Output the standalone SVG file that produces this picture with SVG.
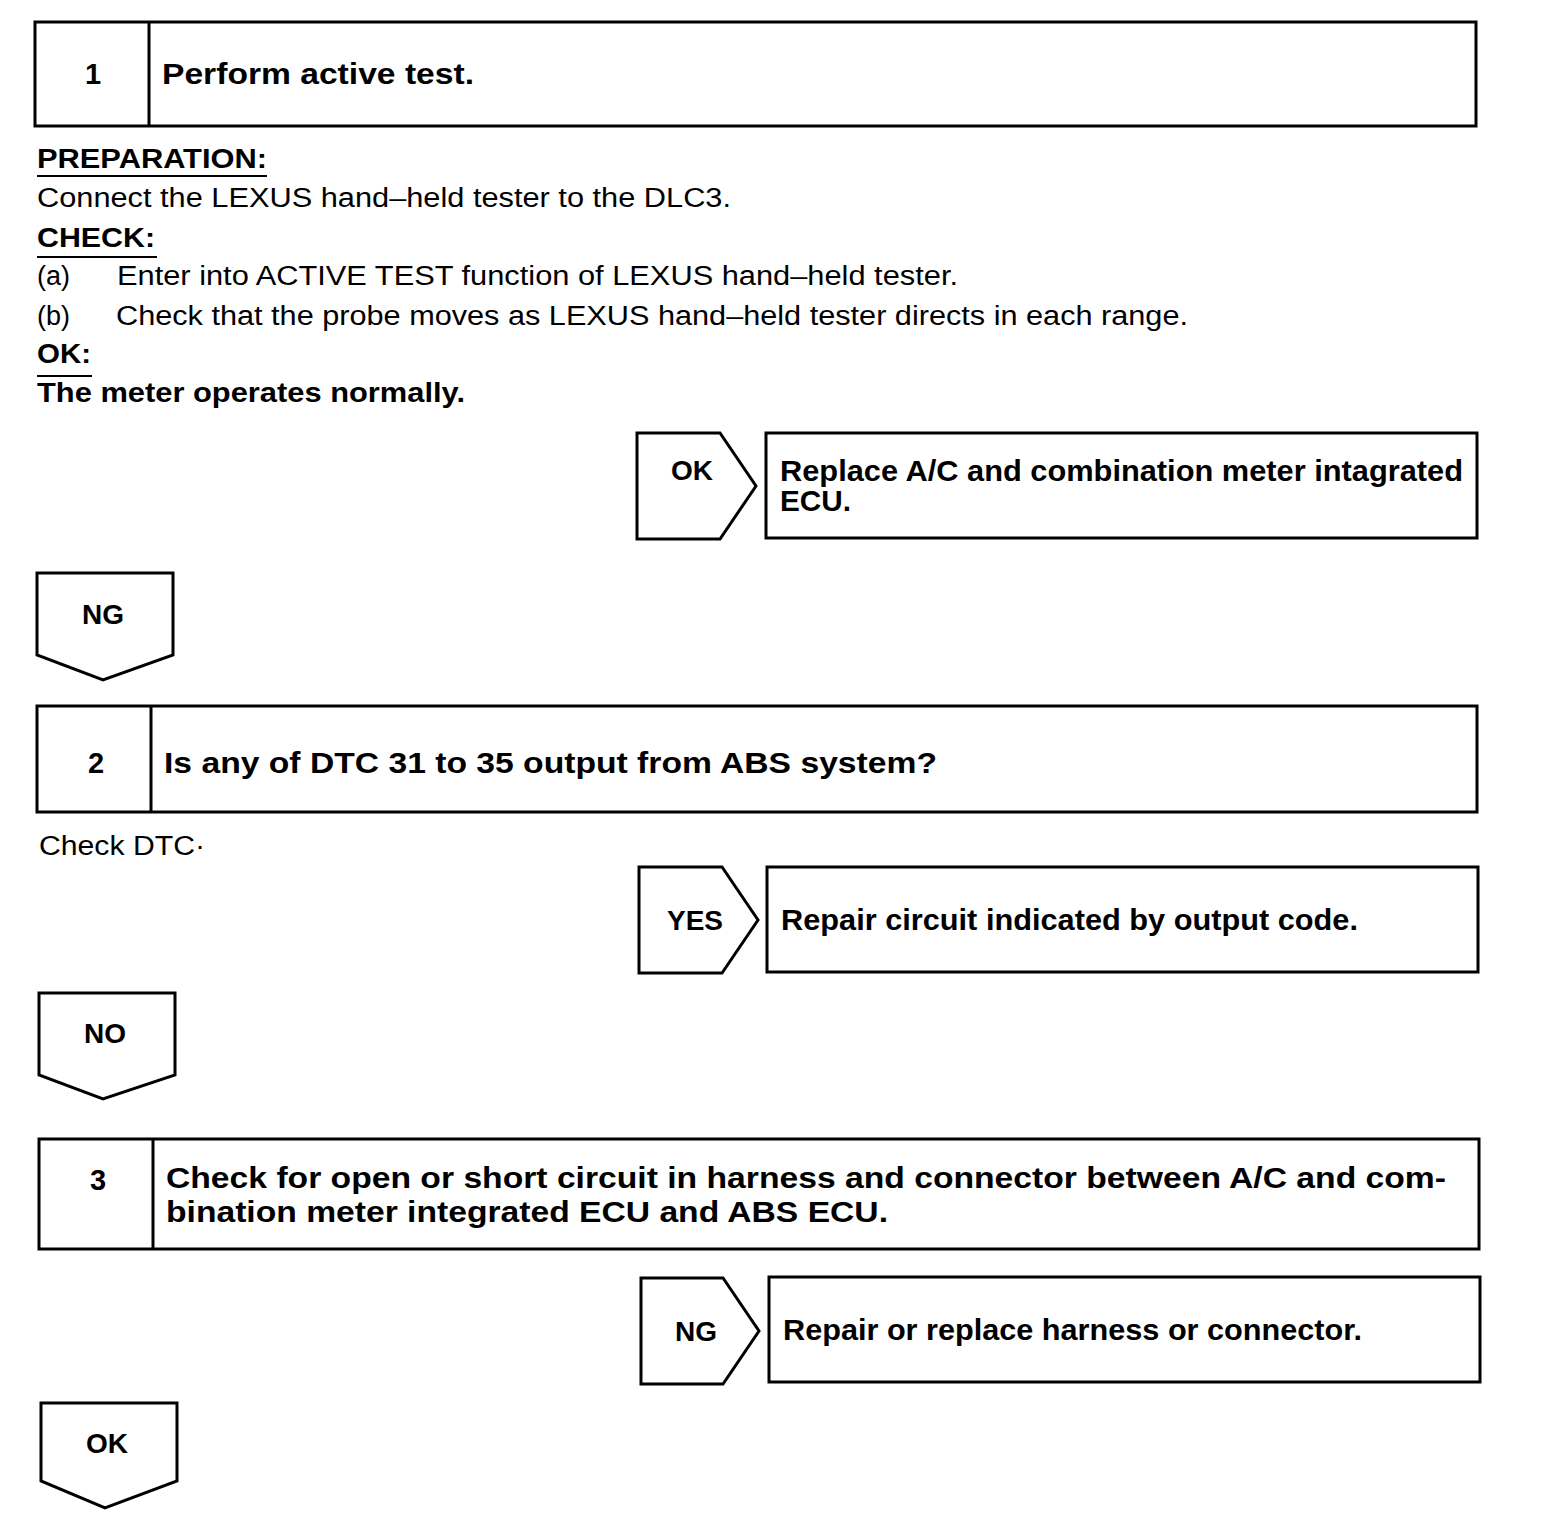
<svg xmlns="http://www.w3.org/2000/svg" width="1568" height="1540" viewBox="0 0 1568 1540">
<style>
.bx{fill:#fff;stroke:#000;stroke-width:3}
.ln{stroke:#000;stroke-width:3;fill:none}
.ul{stroke:#000;stroke-width:2}
.t{font-family:"Liberation Sans",Arial,sans-serif;fill:#000}
.b{font-weight:bold}
.r{font-size:27px}
.h{font-size:29px;font-weight:bold}
.c{font-size:28px;font-weight:bold}
.rc{font-size:30px;font-weight:bold}
.m{text-anchor:middle}
</style>
<rect width="1568" height="1540" fill="#fff"/>
<g id="step1">
<rect class="bx" x="35" y="22" width="1441" height="104"/>
<line class="ln" x1="149" y1="22" x2="149" y2="126"/>
<text class="t h m" x="93" y="84">1</text>
<text class="t h" x="162" y="84" textLength="312" lengthAdjust="spacingAndGlyphs">Perform active test.</text>
</g>
<g id="step1-notes">
<text class="t r b" x="37" y="168" textLength="230" lengthAdjust="spacingAndGlyphs">PREPARATION:</text>
<line class="ul" x1="37" y1="176" x2="267" y2="176"/>
<text class="t r" x="37" y="207" textLength="694" lengthAdjust="spacingAndGlyphs">Connect the LEXUS hand–held tester to the DLC3.</text>
<text class="t r b" x="37" y="247" textLength="118" lengthAdjust="spacingAndGlyphs">CHECK:</text>
<line class="ul" x1="37" y1="257" x2="157" y2="257"/>
<text class="t r" x="37" y="285">(a)</text>
<text class="t r" x="117" y="285" textLength="841" lengthAdjust="spacingAndGlyphs">Enter into ACTIVE TEST function of LEXUS hand–held tester.</text>
<text class="t r" x="37" y="325">(b)</text>
<text class="t r" x="116" y="325" textLength="1072" lengthAdjust="spacingAndGlyphs">Check that the probe moves as LEXUS hand–held tester directs in each range.</text>
<text class="t r b" x="37" y="363" textLength="54" lengthAdjust="spacingAndGlyphs">OK:</text>
<line class="ul" x1="37" y1="376" x2="92" y2="376"/>
<text class="t r b" x="37" y="402" textLength="428" lengthAdjust="spacingAndGlyphs">The meter operates normally.</text>
</g>
<g id="connectors">
<g id="ok1">
<polygon class="bx" points="637,433 720,433 756,486 720,539 637,539"/>
<text class="t c m" x="692" y="480">OK</text>
</g>
<g id="ng1">
<polygon class="bx" points="37,573 173,573 173,655 103,680 37,655"/>
<text class="t c m" x="103" y="624">NG</text>
</g>
<g id="yes2">
<polygon class="bx" points="639,867 722,867 758,920 722,973 639,973"/>
<text class="t c m" x="695" y="930">YES</text>
</g>
<g id="no2">
<polygon class="bx" points="39,993 175,993 175,1075 103,1099 39,1075"/>
<text class="t c m" x="105" y="1043">NO</text>
</g>
<g id="ng3">
<polygon class="bx" points="641,1278 723,1278 759,1331 723,1384 641,1384"/>
<text class="t c m" x="696" y="1341">NG</text>
</g>
<g id="ok3">
<polygon class="bx" points="41,1403 177,1403 177,1481 105,1508 41,1481"/>
<text class="t c m" x="107" y="1453">OK</text>
</g>
</g>
<g id="result1">
<rect class="bx" x="766" y="433" width="711" height="105"/>
<text class="t rc" x="780" y="481" textLength="683" lengthAdjust="spacingAndGlyphs">Replace A/C and combination meter intagrated</text>
<text class="t rc" x="780" y="511" textLength="71" lengthAdjust="spacingAndGlyphs">ECU.</text>
</g>
<g id="step2">
<rect class="bx" x="37" y="706" width="1440" height="106"/>
<line class="ln" x1="151" y1="706" x2="151" y2="812"/>
<text class="t h m" x="96" y="773">2</text>
<text class="t h" x="164" y="773" textLength="773" lengthAdjust="spacingAndGlyphs">Is any of DTC 31 to 35 output from ABS system?</text>
</g>
<g id="step2-note">
<text class="t r" x="39" y="855" textLength="166" lengthAdjust="spacingAndGlyphs">Check DTC·</text>
</g>
<g id="result2">
<rect class="bx" x="767" y="867" width="711" height="105"/>
<text class="t rc" x="781" y="930" textLength="577" lengthAdjust="spacingAndGlyphs">Repair circuit indicated by output code.</text>
</g>
<g id="step3">
<rect class="bx" x="39" y="1139" width="1440" height="110"/>
<line class="ln" x1="153" y1="1139" x2="153" y2="1249"/>
<text class="t h m" x="98" y="1190">3</text>
<text class="t h" x="166" y="1188" textLength="1280" lengthAdjust="spacingAndGlyphs">Check for open or short circuit in harness and connector between A/C and com-</text>
<text class="t h" x="166" y="1222" textLength="722" lengthAdjust="spacingAndGlyphs">bination meter integrated ECU and ABS ECU.</text>
</g>
<g id="result3">
<rect class="bx" x="769" y="1277" width="711" height="105"/>
<text class="t rc" x="783" y="1340" textLength="579" lengthAdjust="spacingAndGlyphs">Repair or replace harness or connector.</text>
</g>
</svg>
